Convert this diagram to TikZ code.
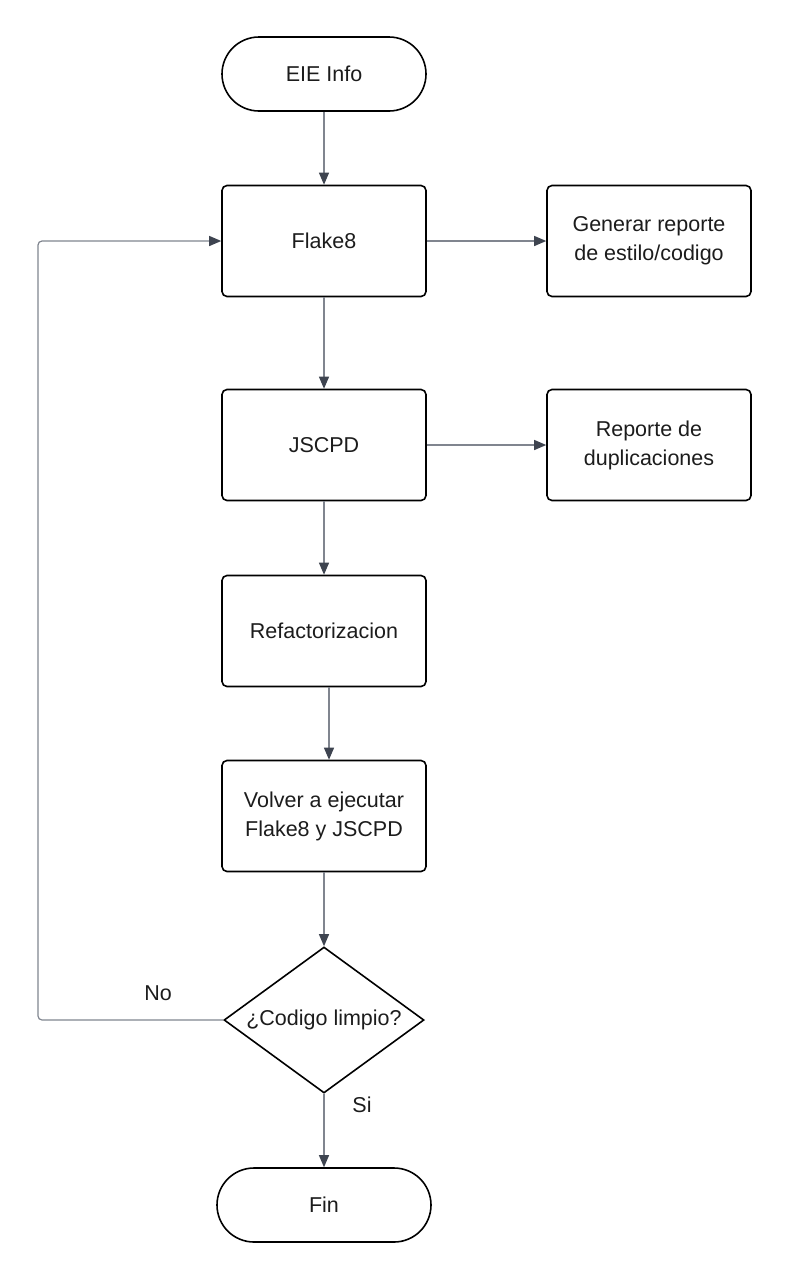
\documentclass[tikz,border=0pt]{standalone}
\usepackage{fontspec}
\setmainfont{Liberation Sans}
\usetikzlibrary{arrows.meta,shapes.geometric}
\definecolor{lineagris}{RGB}{128,133,143}
\definecolor{puntagris}{RGB}{62,68,80}
\definecolor{textonegro}{RGB}{28,28,28}

\begin{document}
\begin{tikzpicture}[x=1pt,y=-1pt,
    caja/.style={draw=black,line width=1.6pt,rounded corners=5pt,
      minimum width=204pt,minimum height=111pt,align=center,
      text=textonegro,font=\fontsize{21.5}{29}\selectfont},
    terminal/.style={draw=black,line width=1.6pt,rounded corners=37pt,
      minimum width=204pt,minimum height=74pt,
      text=textonegro,font=\fontsize{21.5}{29}\selectfont},
    decision/.style={draw=black,line width=1.6pt,diamond,aspect=1.37,
      inner sep=0pt,minimum width=200pt,minimum height=146pt,
      text=textonegro,font=\fontsize{21.5}{29}\selectfont},
    flecha/.style={draw=lineagris,line width=1.2pt,
      -{Triangle[length=12pt,width=10pt,color=puntagris]}},
    etiqueta/.style={text=textonegro,font=\fontsize{21.5}{29}\selectfont}]
      \useasboundingbox (0,0) rectangle (788,1280);
      \def\xc{324}

      % Nodos
      \node[terminal] (inicio) at (\xc,74) {EIE Info};
      \node[caja] (flake) at (\xc,241) {Flake8};
      \node[caja] (estilo) at (649,241) {Generar reporte\\de estilo/codigo};
      \node[caja] (jscpd) at (\xc,445) {JSCPD};
      \node[caja] (dupl) at (649,445) {Reporte de\\duplicaciones};
      \node[caja] (refac) at (\xc,631) {Refactorizacion};
      \node[caja] (volver) at (\xc,816) {Volver a ejecutar\\Flake8 y JSCPD};
      \node[decision] (limpio) at (\xc,1020) {¿Codigo limpio?};
      \node[terminal,minimum width=214pt] (fin) at (\xc,1205) {Fin};

      % Conectores
      \draw[flecha] (inicio) -- (flake);
      \draw[flecha] (flake) -- (estilo);
      \draw[flecha] (flake) -- (jscpd);
      \draw[flecha] (jscpd) -- (dupl);
      \draw[flecha] (jscpd) -- (refac);
      \draw[flecha] ([xshift=5pt]refac.south) -- ([xshift=5pt]volver.north);
      \draw[flecha] (volver) -- (limpio);
      \draw[flecha] (limpio) -- (fin);
      \draw[flecha,rounded corners=4pt] (limpio.west) -- (38,1020) -- (38,241) -- (flake.west);

      % Etiquetas
      \node[etiqueta] (no) at (158,993) {No};
      \node[etiqueta] (si) at (362,1105) {Si};
    \end{tikzpicture}
\end{document}
